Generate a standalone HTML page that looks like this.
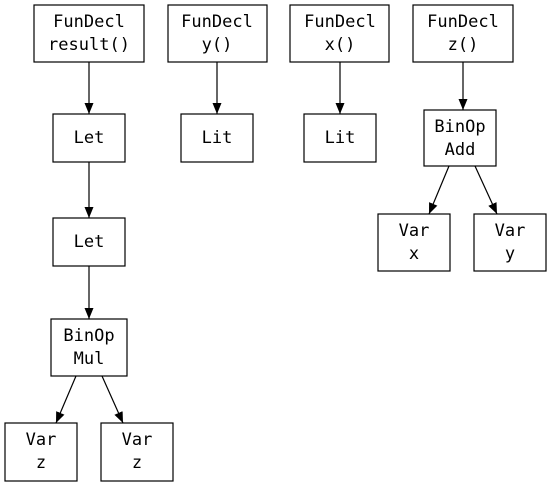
<!DOCTYPE html>
<html><head><style>
html,body{margin:0;padding:0;background:#fff;}
svg{display:block;}
text{font-family:"DejaVu Sans Mono","Liberation Mono",monospace;font-size:17px;text-anchor:middle;dominant-baseline:central;fill:#000;}
rect{fill:#fff;stroke:#000;stroke-width:1.2;}
line{stroke:#000;stroke-width:1.2;}
</style></head><body>
<svg width="552" height="486" viewBox="0 0 552 486" xmlns="http://www.w3.org/2000/svg">
<defs><marker id="a" markerWidth="11" markerHeight="9" refX="11" refY="4.5" orient="auto" markerUnits="userSpaceOnUse"><path d="M0,0 L11,4.5 L0,9 z" fill="#000"/></marker></defs>
<line x1="89" y1="62" x2="89" y2="114" marker-end="url(#a)"/>
<line x1="89" y1="162" x2="89" y2="218" marker-end="url(#a)"/>
<line x1="89" y1="266" x2="89" y2="319" marker-end="url(#a)"/>
<line x1="76" y1="376" x2="56" y2="423" marker-end="url(#a)"/>
<line x1="102" y1="376" x2="123" y2="423" marker-end="url(#a)"/>
<line x1="217" y1="62" x2="217" y2="114" marker-end="url(#a)"/>
<line x1="340" y1="62" x2="340" y2="114" marker-end="url(#a)"/>
<line x1="463" y1="62" x2="463" y2="110" marker-end="url(#a)"/>
<line x1="449" y1="166" x2="429" y2="214" marker-end="url(#a)"/>
<line x1="475" y1="166" x2="497" y2="214" marker-end="url(#a)"/>
<rect x="34" y="5" width="110" height="57"/><text x="89" y="22">FunDecl</text><text x="89" y="45">result()</text>
<rect x="168" y="5" width="99" height="57"/><text x="217" y="22">FunDecl</text><text x="217" y="45">y()</text>
<rect x="290" y="5" width="99" height="57"/><text x="340" y="22">FunDecl</text><text x="340" y="45">x()</text>
<rect x="413" y="5" width="100" height="57"/><text x="463" y="22">FunDecl</text><text x="463" y="45">z()</text>
<rect x="53" y="114" width="72" height="48"/><text x="89" y="138">Let</text>
<rect x="181" y="114" width="72" height="48"/><text x="217" y="138">Lit</text>
<rect x="304" y="114" width="72" height="48"/><text x="340" y="138">Lit</text>
<rect x="424" y="110" width="72" height="56"/><text x="460" y="127">BinOp</text><text x="460" y="150">Add</text>
<rect x="53" y="218" width="72" height="48"/><text x="89" y="242">Let</text>
<rect x="378" y="214" width="72" height="57"/><text x="414" y="231">Var</text><text x="414" y="254">x</text>
<rect x="474" y="214" width="72" height="57"/><text x="510" y="231">Var</text><text x="510" y="254">y</text>
<rect x="51" y="319" width="76" height="57"/><text x="89" y="336">BinOp</text><text x="89" y="359">Mul</text>
<rect x="5" y="423" width="72" height="58"/><text x="41" y="440">Var</text><text x="41" y="463">z</text>
<rect x="101" y="423" width="72" height="58"/><text x="137" y="440">Var</text><text x="137" y="463">z</text>
</svg>
</body></html>
